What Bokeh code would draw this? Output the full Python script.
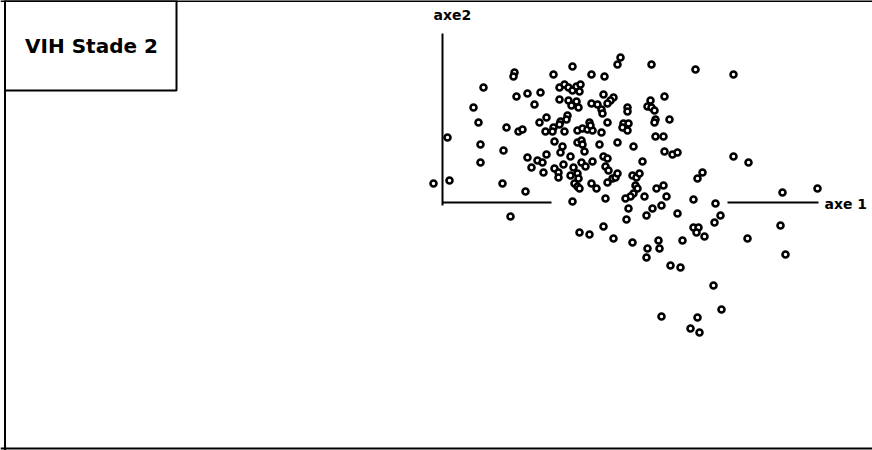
from bokeh.plotting import figure
from bokeh.models import Range1d, BoxAnnotation, Label, Span, ColumnDataSource
from bokeh.embed import file_html
from bokeh.resources import INLINE

# Factor scores (axe 1, axe 2), arbitrary units
axe1 = [178, 175, 209, 253, 291, 130, 72, 71, 111, 149, 162, 41, 85, 98, 74, 117, 122, 126, 130, 134,
        137, 138, 161, 222, 92, 31, 117, 126, 129, 134, 136, 171, 168, 165, 149, 155, 159, 160, 185, 185,
        208, 205, 209, 212, 125, 124, 118, 117, 104, 97, 36, 64, 76, 80, 103, 111, 110, 122, 135, 140,
        145, 150, 147, 148, 159, 165, 181, 186, 180, 185, 213, 212, 227, 213, 221, 135, 139, 140, 175, 112,
        5, 38, 61, 120, 118, 142, 157, 191, 85, 95, 100, 104, 89, 38, 121, 128, 139, 143, 150, 161,
        165, 163, 166, 200, 222, 230, 235, 101, 112, 116, 116, 131, 128, 135, 136, 132, 135, 137, 149, 154,
        165, 170, 173, 175, 190, 194, 197, 193, 195, 191, 188, 183, 202, 214, 221, 224, 163, 130, -9, 7,
        60, 83, 255, 260, 291, 306, 340, 375, 251, 273, 68, 186, 210, 204, 219, 235, 184, 278, 272, 161,
        251, 256, 254, 338, 137, 147, 171, 190, 205, 204, 216, 217, 228, 238, 240, 262, 305, 343, 271, 279,
        219, 255, 248, 257]
axe2 = [145, 138, 138, 133, 128, 136, 130, 126, 128, 128, 126, 115, 109, 110, 106, 115, 118, 115, 112, 116,
        111, 118, 108, 106, 98, 95, 103, 102, 97, 101, 95, 105, 102, 99, 99, 98, 93, 89, 95, 91,
        102, 96, 95, 92, 87, 83, 81, 78, 85, 80, 80, 75, 71, 73, 71, 75, 71, 71, 72, 74,
        73, 72, 80, 77, 70, 80, 79, 79, 75, 72, 83, 80, 83, 66, 66, 60, 62, 58, 60, 61,
        65, 58, 52, 56, 50, 51, 58, 56, 45, 42, 40, 48, 35, 40, 38, 46, 40, 36, 41, 46,
        44, 36, 32, 41, 51, 48, 50, 30, 34, 30, 25, 35, 27, 29, 24, 19, 16, 14, 19, 14,
        20, 24, 25, 29, 27, 25, 29, 17, 14, 9, 6, 4, 6, 14, 17, 6, 4, 1, 19, 22,
        19, 11, 24, 30, 46, 40, 10, 14, 3, -1, -14, -6, -6, -13, -3, -11, -17, -13, -20, -24,
        -25, -25, -30, -23, -30, -32, -36, -40, -46, -55, -38, -46, -63, -65, -38, -34, -36, -52, -83, -107,
        -114, -115, -126, -130]

title_text = "VIH Stade 2"
axis_names = ["axe 1", "axe2"]
# drawn extents of the two reference axes
axe1_segments_x0 = [0, 285]
axe1_segments_x1 = [109, 376]
axe2_extent = [-3, 169]

p = figure(width=872, height=450, output_backend="svg", toolbar_location=None,
           x_range=Range1d(-442, 430), y_range=Range1d(-248, 202),
           min_border=0, min_border_left=0, min_border_right=0, min_border_top=0, min_border_bottom=0)
p.axis.visible = False
p.grid.visible = False
p.outline_line_color = None
p.background_fill_color = "white"
p.border_fill_color = "white"

# frame (left, top, bottom)
p.add_layout(Span(location=-437.5, dimension="height", line_color="black", line_width=2))
p.add_layout(Span(location=202, dimension="width", line_color="black", line_width=3))
p.add_layout(Span(location=-246, dimension="width", line_color="black", line_width=2))

# title box
p.add_layout(BoxAnnotation(left=-437.5, right=-266, bottom=112, fill_alpha=0,
                           line_color="black", line_alpha=1.0, line_width=2))
p.add_layout(Label(x=-351, y=157, text=title_text, text_font="DejaVu Sans", text_font_style="bold",
                   text_font_size="20px", text_align="center", text_baseline="middle", text_color="black"))

# axes of the factorial plane
p.segment(x0=axe1_segments_x0, y0=[0, 0], x1=axe1_segments_x1, y1=[0, 0], line_color="black", line_width=2)
p.segment(x0=[0], y0=[axe2_extent[0]], x1=[0], y1=[axe2_extent[1]], line_color="black", line_width=2)
p.add_layout(Label(x=382, y=-1, text=axis_names[0], text_font="DejaVu Sans", text_font_style="bold",
                   text_font_size="14px", text_align="left", text_baseline="middle", text_color="black"))
p.add_layout(Label(x=-9, y=188, text=axis_names[1], text_font="DejaVu Sans", text_font_style="bold",
                   text_font_size="14px", text_align="left", text_baseline="middle", text_color="black"))

src = ColumnDataSource(dict(x=axe1, y=axe2))
p.scatter("x", "y", source=src, marker="circle", size=6, line_width=2.6,
          line_color="black", fill_color="white")

open("out.html", "w").write(file_html(p, INLINE))
